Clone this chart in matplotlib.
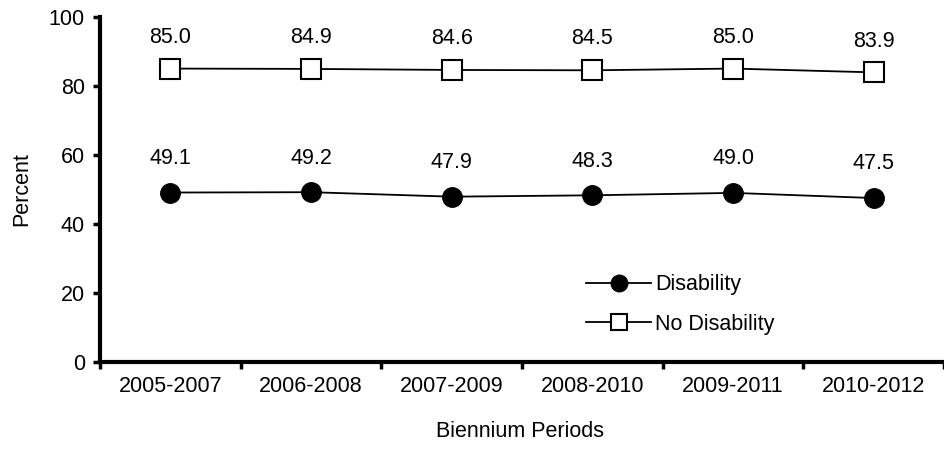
import numpy as np
import matplotlib.pyplot as plt

plt.rcParams['font.family'] = ['Liberation Sans', 'DejaVu Sans']

periods = ['2005-2007', '2006-2008', '2007-2009', '2008-2010', '2009-2011', '2010-2012']
disability = [49.1, 49.2, 47.9, 48.3, 49.0, 47.5]
no_disability = [85.0, 84.9, 84.6, 84.5, 85.0, 83.9]

fig = plt.figure(figsize=(9.45, 4.66), dpi=100)
ax = fig.add_axes([0.106, 0.223, 0.893, 0.741])

x = np.arange(len(periods))
ax.plot(x, disability, color='black', lw=1.3, marker='o', ms=14,
        mfc='black', mec='black', label='Disability')
ax.plot(x, no_disability, color='black', lw=1.3, marker='s', ms=14,
        mfc='white', mec='black', mew=1.5, label='No Disability')

for xi, v in zip(x, disability):
    ax.annotate('%.1f' % v, (xi, v), xytext=(0, 17), textcoords='offset points',
                ha='center', va='bottom', fontsize=15.5)
for xi, v in zip(x, no_disability):
    ax.annotate('%.1f' % v, (xi, v), xytext=(0, 15), textcoords='offset points',
                ha='center', va='bottom', fontsize=15.5)

ax.set_xlim(-0.5, len(periods) - 0.5)
ax.set_ylim(0, 100)
ax.set_yticks([0, 20, 40, 60, 80, 100])
ax.set_xticks(np.arange(len(periods) + 1) - 0.5)
ax.set_xticklabels([])
ax.set_xticks(x, minor=True)
ax.set_xticklabels(periods, minor=True, fontsize=15.5)
ax.tick_params(axis='x', which='minor', length=0, pad=10)
ax.tick_params(axis='x', which='major', length=5, width=2.5, direction='out')
ax.tick_params(axis='y', length=5, width=2.5, direction='out', labelsize=15.5, pad=6)

for s in ['top', 'right']:
    ax.spines[s].set_visible(False)
for s in ['left', 'bottom']:
    ax.spines[s].set_linewidth(3)

ax.set_ylabel('Percent', fontsize=15.5, labelpad=12)
fig.text(0.55, 0.075, 'Biennium Periods', ha='center', va='center', fontsize=15.5)

ax.legend(loc='upper left', bbox_to_anchor=(0.553, 0.31), frameon=False,
          fontsize=15.5, handlelength=3, markerscale=0.85, labelspacing=0.85,
          handletextpad=0.2)

fig.savefig('out.png', dpi=100)
